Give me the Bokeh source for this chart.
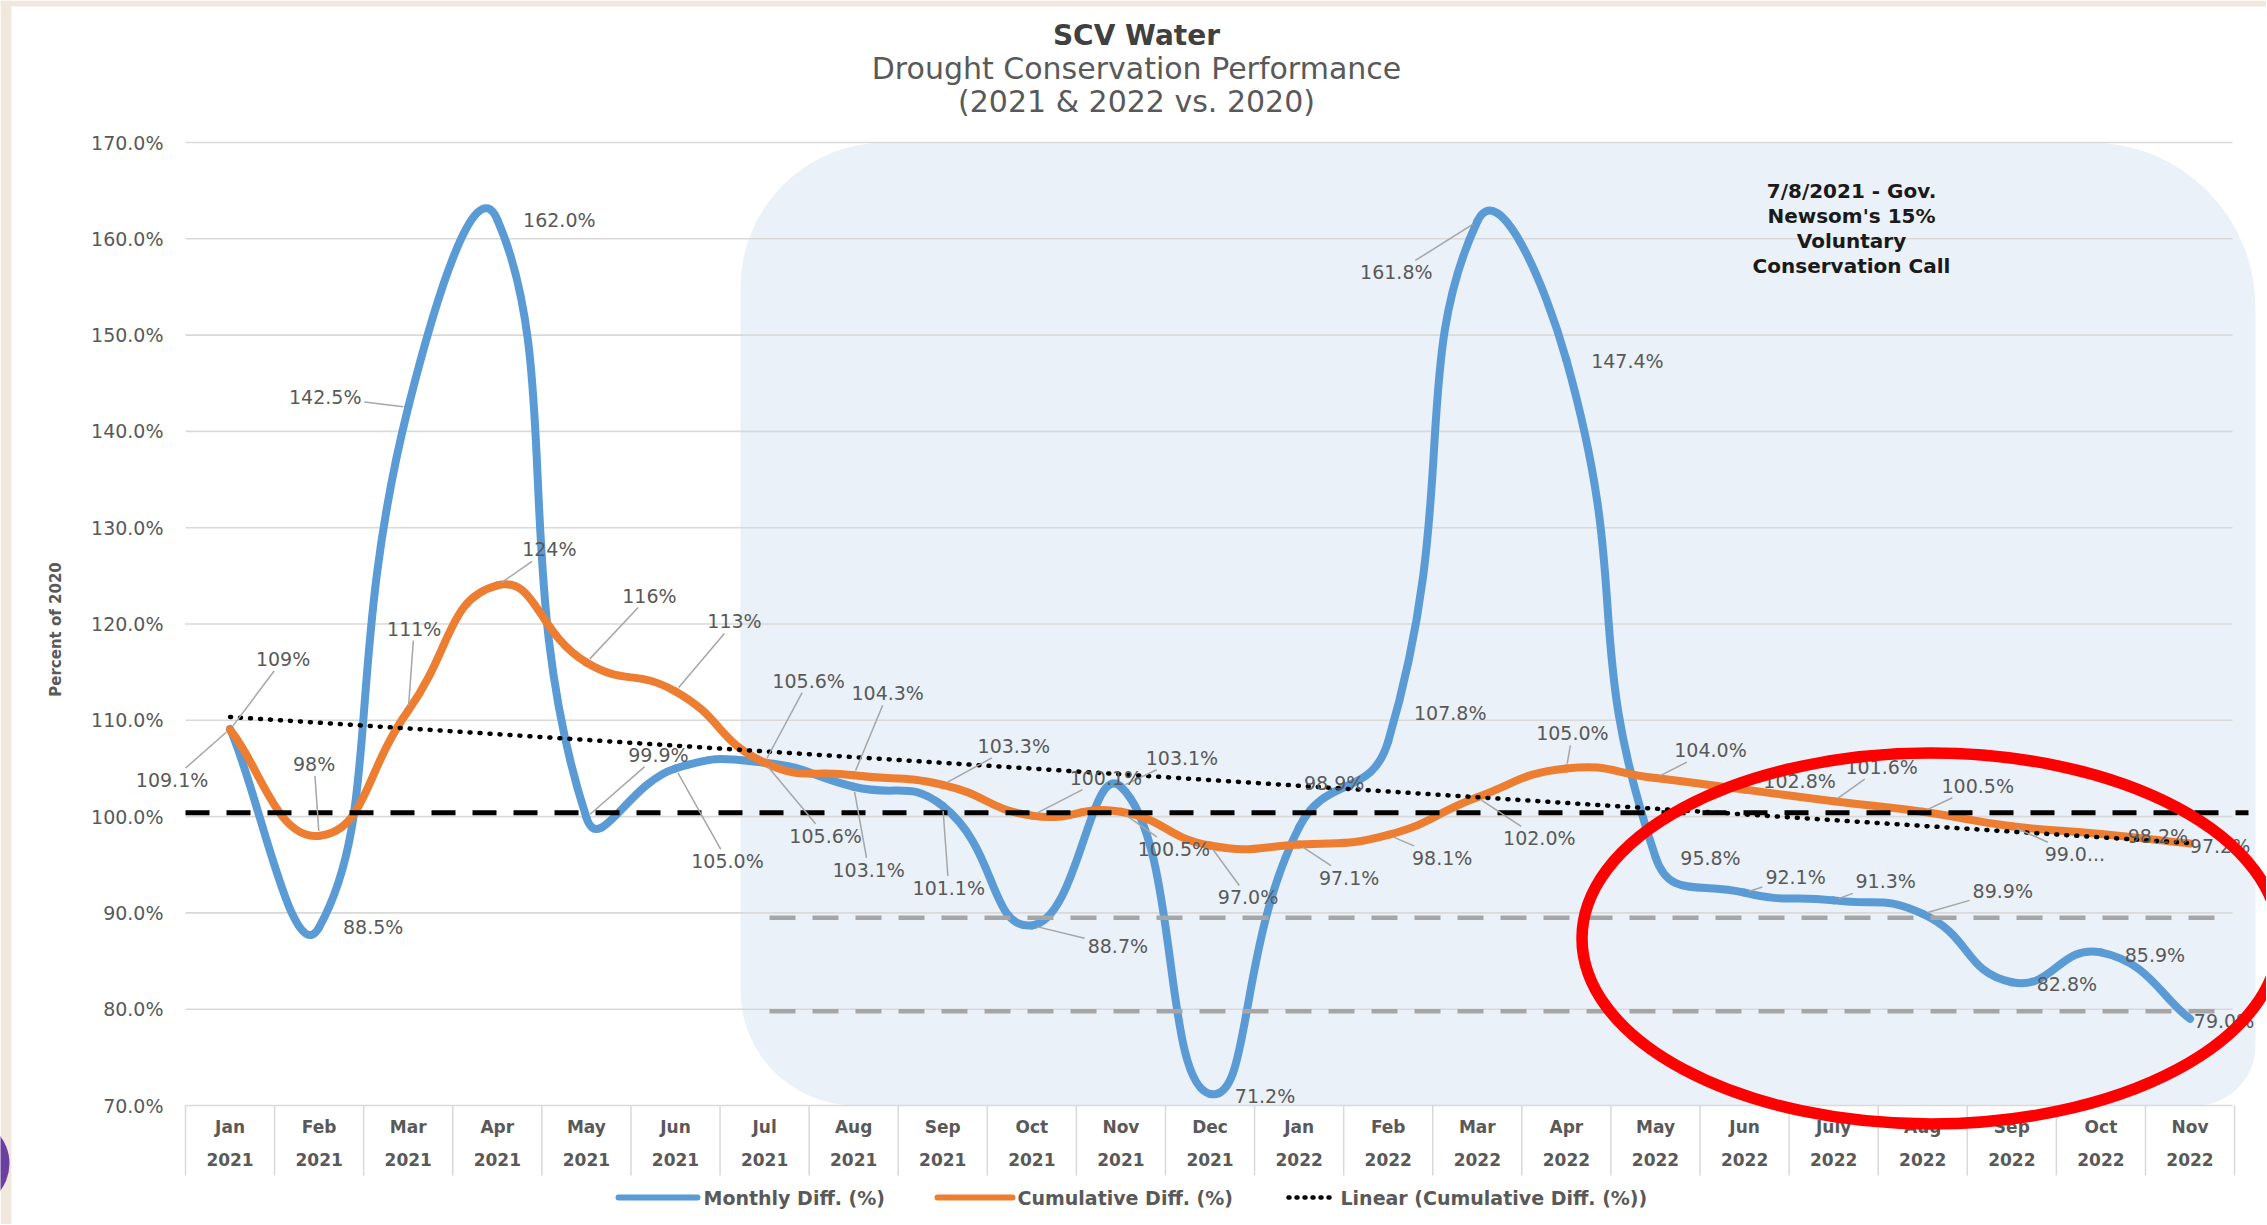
import numpy as np
from bokeh.plotting import figure
from bokeh.models import Range1d, BoxAnnotation
from bokeh.core.properties import value
from bokeh.embed import file_html
from bokeh.resources import INLINE

# ---------------- data ----------------
months = ["Jan", "Feb", "Mar", "Apr", "May", "Jun", "Jul", "Aug", "Sep", "Oct", "Nov", "Dec",
          "Jan", "Feb", "Mar", "Apr", "May", "Jun", "July", "Aug", "Sep", "Oct", "Nov"]
years = ["2021"] * 12 + ["2022"] * 11
monthly = [109.1, 88.5, 142.5, 162.0, 99.9, 105.0, 105.6, 103.1, 101.1, 88.7, 103.1, 71.2,
           98.9, 107.8, 161.8, 147.4, 95.8, 92.1, 91.3, 89.9, 82.8, 85.9, 79.0]
cumulative = [109.0, 98.0, 111.0, 124.0, 116.0, 113.0, 105.6, 104.3, 103.3, 100.1, 100.5, 97.0,
              97.1, 98.1, 102.0, 105.0, 104.0, 102.8, 101.6, 100.5, 99.0, 98.2, 97.2]
monthly_text = ["109.1%", "88.5%", "142.5%", "162.0%", "99.9%", "105.0%", "105.6%", "103.1%",
                "101.1%", "88.7%", "103.1%", "71.2%", "98.9%", "107.8%", "161.8%", "147.4%",
                "95.8%", "92.1%", "91.3%", "89.9%", "82.8%", "85.9%", "79.0%"]
cumulative_text = ["109%", "98%", "111%", "124%", "116%", "113%", "105.6%", "104.3%", "103.3%",
                   "100.1%", "100.5%", "97.0%", "97.1%", "98.1%", "102.0%", "105.0%", "104.0%",
                   "102.8%", "101.6%", "100.5%", "99.0...", "98.2%", "97.2%"]
y_ticks = [70, 80, 90, 100, 110, 120, 130, 140, 150, 160, 170]
y_tick_labels = ["70.0%", "80.0%", "90.0%", "100.0%", "110.0%", "120.0%", "130.0%", "140.0%",
                 "150.0%", "160.0%", "170.0%"]
y_title = "Percent of 2020"
baseline_level = 100.4
target_levels = [89.5, 79.8]
title_lines = ["SCV Water", "Drought Conservation Performance", "(2021 & 2022 vs. 2020)"]
note_lines = ["7/8/2021 - Gov.", "Newsom's 15%", "Voluntary", "Conservation Call"]
legend_texts = ["Monthly Diff. (%)", "Cumulative Diff. (%)", "Linear (Cumulative Diff. (%))"]

# ---------------- layout / styles ----------------
PX_X = 89.09   # px per category
PX_Y = 9.63    # px per percentage point
W, H = 2266, 1224
FONT = value("DejaVu Sans")
BLUE = "#5B9BD5"
ORANGE = "#ED7D31"
LABEL_GREY = "#595959"

def yp(full_y):
    return 170 - (full_y - 142) / PX_Y

def xp(full_x):
    return -0.5 + (full_x - 185) / PX_X

p = figure(width=W, height=H, x_range=Range1d(xp(0), xp(W)), y_range=Range1d(yp(H), yp(0)),
           x_axis_location=None, y_axis_location=None,
           min_border_left=0, min_border_right=0, min_border_top=0, min_border_bottom=0,
           output_backend="svg", toolbar_location=None,
           background_fill_color="white", border_fill_color="white", outline_line_color=None)
p.xgrid.visible = False
p.ygrid.visible = False

# beige slide edges and the purple slide ornament
p.quad(left=[xp(0), xp(0)], right=[xp(W), xp(11)], top=[yp(0), yp(0)], bottom=[yp(6), yp(H)],
       fill_color="#F1E8DD", line_color=None)
p.ellipse(x=[xp(-36)], y=[yp(1163)], width=[90], height=[90], width_units="screen",
          height_units="screen", fill_color="#6B3FA0", line_color=None)

# shaded rounded region (Jul 2021 onwards)
shade = BoxAnnotation(left=xp(740), right=xp(2255), top=170, bottom=70,
                      fill_color="#EAF1F8", fill_alpha=1.0, line_color=None, line_alpha=0,
                      border_radius=(145, 165, 60, 115), level="underlay")
p.add_layout(shade)

# gridlines
grid_right = xp(2232)
p.segment(x0=[-0.5] * len(y_ticks), x1=[grid_right] * len(y_ticks), y0=y_ticks, y1=y_ticks,
          line_color="#D9D9D9", line_width=1.6)

# value axis labels
p.text(x=[xp(163)] * len(y_ticks), y=y_ticks, text=y_tick_labels, text_font=FONT,
       text_font_size="19px", text_color=LABEL_GREY, text_align="right", text_baseline="middle")
p.text(x=[xp(55)], y=[yp(629)], text=[y_title], angle=np.pi / 2, text_font=FONT,
       text_font_size="15px", text_font_style="bold", text_color=LABEL_GREY,
       text_align="center", text_baseline="middle")

# category box separators and labels
n = len(months)
idx = np.arange(n)
bounds = np.arange(n + 1) - 0.5
p.segment(x0=bounds, x1=bounds, y0=[70] * (n + 1), y1=[yp(1175)] * (n + 1),
          line_color="#D9D9D9", line_width=1.5)
p.text(x=idx, y=[yp(1126)] * n, text=months, text_font=FONT, text_font_size="17px",
       text_font_style="bold", text_color=LABEL_GREY, text_align="center", text_baseline="middle")
p.text(x=idx, y=[yp(1159)] * n, text=years, text_font=FONT, text_font_size="17px",
       text_font_style="bold", text_color=LABEL_GREY, text_align="center", text_baseline="middle")

# smoothed series: Bezier segments through the data points, control points scaled
# by neighbouring segment lengths in screen space (Excel-style smoothing)
def bez(vals, t=0.5):
    m = len(vals)
    P = [(i * PX_X, v * PX_Y) for i, v in enumerate(vals)]
    def dist(a, b):
        return ((P[a][0] - P[b][0]) ** 2 + (P[a][1] - P[b][1]) ** 2) ** 0.5
    out = dict(x0=[], y0=[], x1=[], y1=[], cx0=[], cy0=[], cx1=[], cy1=[])
    for i in range(m - 1):
        d = dist(i, i + 1)
        if i > 0:
            f = t * d / (dist(i - 1, i) + d)
            c0 = (P[i][0] + f * (P[i + 1][0] - P[i - 1][0]), P[i][1] + f * (P[i + 1][1] - P[i - 1][1]))
        else:
            c0 = (P[i][0] + (P[i + 1][0] - P[i][0]) / 3, P[i][1] + (P[i + 1][1] - P[i][1]) / 3)
        if i + 2 < m:
            f = t * d / (d + dist(i + 1, i + 2))
            c1 = (P[i + 1][0] - f * (P[i + 2][0] - P[i][0]), P[i + 1][1] - f * (P[i + 2][1] - P[i][1]))
        else:
            c1 = (P[i + 1][0] - (P[i + 1][0] - P[i][0]) / 3, P[i + 1][1] - (P[i + 1][1] - P[i][1]) / 3)
        out["x0"].append(i); out["y0"].append(vals[i])
        out["x1"].append(i + 1); out["y1"].append(vals[i + 1])
        out["cx0"].append(c0[0] / PX_X); out["cy0"].append(c0[1] / PX_Y)
        out["cx1"].append(c1[0] / PX_X); out["cy1"].append(c1[1] / PX_Y)
    return out

p.bezier(source=bez(monthly), x0="x0", y0="y0", x1="x1", y1="y1", cx0="cx0", cy0="cy0",
         cx1="cx1", cy1="cy1", line_color=BLUE, line_width=8, line_cap="round")
p.bezier(source=bez(cumulative), x0="x0", y0="y0", x1="x1", y1="y1", cx0="cx0", cy0="cy0",
         cx1="cx1", cy1="cy1", line_color=ORANGE, line_width=8, line_cap="round")

# reference lines
p.segment(x0=[xp(769)] * 2, x1=[xp(2218)] * 2, y0=target_levels, y1=target_levels,
          line_color="#A6A6A6", line_width=4.5, line_dash="26 17")
p.segment(x0=[-0.5], x1=[xp(2248)], y0=[baseline_level], y1=[baseline_level],
          line_color="black", line_width=5, line_dash="24 17")

# linear trend of cumulative
k, b0 = np.polyfit(idx, cumulative, 1)
p.line(x=[0, n - 1], y=[b0, b0 + k * (n - 1)], line_color="black", line_width=4.5,
       line_dash="1 9", line_cap="round")

# data labels (pixel offsets from the point: dx right, dy down)
blue_off = [(-58, 51), (54, 0), (-83, -10), (62, 0), (72, -63), (52, 93), (61, 73), (15, 83),
            (6, 82), (86, 21), (61, -29), (55, 2), (35, -44), (62, -28), (-81, 51), (61, 1),
            (55, 1), (51, -16), (52, -19), (80, -23), (55, 2), (54, 3), (34, 2)]
blue_lead = [1, 0, 1, 0, 1, 1, 1, 1, 1, 1, 1, 0, 0, 0, 1, 0, 0, 1, 1, 1, 0, 0, 0]
cum_off = [(53, -71), (-5, -72), (6, -82), (52, -36), (63, -67), (59, -70), (44, -82), (34, -82),
           (71, -39), (74, -38), (53, 37), (38, 52), (50, 33), (54, 23), (62, 41), (6, -35),
           (55, -28), (55, -9), (48, -34), (55, -26), (63, 28), (57, 2), (30, 2)]
cum_lead = [1, 1, 1, 1, 1, 1, 1, 1, 1, 1, 1, 1, 1, 1, 1, 1, 1, 0, 1, 1, 1, 0, 0]
LABEL_SIZE = 19

def text_w(s, size=LABEL_SIZE):
    w = 0
    for ch in s:
        if ch.isdigit():
            w += 0.636
        elif ch == ".":
            w += 0.318
        elif ch == "%":
            w += 0.95
        else:
            w += 0.6
    return w * size

def labels(vals, texts, offs, leads):
    lx, ly, lead = [], [], dict(x0=[], y0=[], x1=[], y1=[])
    for i, (v, t, (dx, dy), ld) in enumerate(zip(vals, texts, offs, leads)):
        lx.append(i + dx / PX_X)
        ly.append(v - dy / PX_Y)
        if ld:
            vx, vy = -dx, -dy
            d = (vx * vx + vy * vy) ** 0.5
            hw = text_w(t) / 2 + 3
            hh = 12
            t0 = min(hw / abs(vx) if vx else 1e9, hh / abs(vy) if vy else 1e9)
            sx, sy = dx + t0 * vx, dy + t0 * vy
            ex, ey = -5 * vx / d, -5 * vy / d
            if ((ex - sx) ** 2 + (ey - sy) ** 2) ** 0.5 > 8:
                lead["x0"].append(i + sx / PX_X); lead["y0"].append(v - sy / PX_Y)
                lead["x1"].append(i + ex / PX_X); lead["y1"].append(v - ey / PX_Y)
    return lx, ly, lead

for vals, texts, offs, leads in [(monthly, monthly_text, blue_off, blue_lead),
                                 (cumulative, cumulative_text, cum_off, cum_lead)]:
    lx, ly, lead = labels(vals, texts, offs, leads)
    p.segment(source=lead, x0="x0", y0="y0", x1="x1", y1="y1", line_color="#A6A6A6",
              line_width=1.5)
    p.text(x=lx, y=ly, text=texts, text_font=FONT, text_font_size=f"{LABEL_SIZE}px",
           text_color=LABEL_GREY, text_align="center", text_baseline="middle")

# title
tx = xp(1136)
p.text(x=[tx], y=[yp(35)], text=[title_lines[0]], text_font=FONT, text_font_size="28px",
       text_font_style="bold", text_color="#404040", text_align="center", text_baseline="middle")
p.text(x=[tx, tx], y=[yp(68), yp(101)], text=title_lines[1:], text_font=FONT,
       text_font_size="30px", text_color=LABEL_GREY, text_align="center", text_baseline="middle")

# annotation
p.text(x=[xp(1851)] * 4, y=[yp(190), yp(215), yp(240), yp(265)], text=note_lines, text_font=FONT,
       text_font_size="20px", text_font_style="bold", text_color="#1A1A1A",
       text_align="center", text_baseline="middle")

# legend
ly_leg = yp(1197)
p.segment(x0=[xp(618)], x1=[xp(697)], y0=[ly_leg], y1=[ly_leg], line_color=BLUE, line_width=6,
          line_cap="round")
p.segment(x0=[xp(937)], x1=[xp(1012)], y0=[ly_leg], y1=[ly_leg], line_color=ORANGE, line_width=6,
          line_cap="round")
p.segment(x0=[xp(1288)], x1=[xp(1330)], y0=[ly_leg], y1=[ly_leg], line_color="black",
          line_width=4.5, line_dash="1 7", line_cap="round")
p.text(x=[xp(703), xp(1017), xp(1340)], y=[ly_leg] * 3, text=legend_texts,
       text_font=FONT, text_font_size="19px", text_font_style="bold", text_color=LABEL_GREY,
       text_align="left", text_baseline="middle")

# red hand-drawn highlight ellipse
p.ellipse(x=[xp(1930)], y=[yp(938)], width=[697], height=[371], width_units="screen",
          height_units="screen", fill_color=None, line_color="#FF0000", line_width=11.5)

open("out.html", "w").write(file_html(p, INLINE))
